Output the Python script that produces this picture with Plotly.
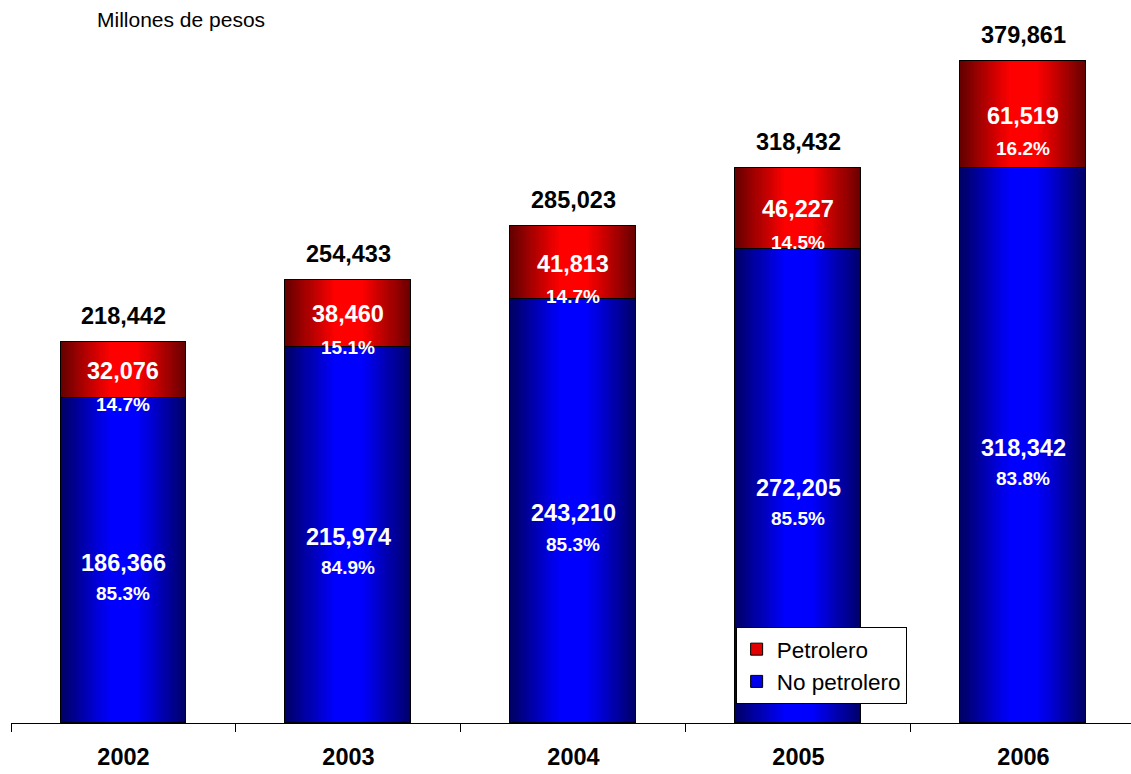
import plotly.graph_objects as go

# Ingresos por año, millones de pesos
years = ["2002", "2003", "2004", "2005", "2006"]
no_petrolero = [186366, 215974, 243210, 272205, 318342]
petrolero = [32076, 38460, 41813, 46227, 61519]
totales = [218442, 254433, 285023, 318432, 379861]
pct_no_petrolero = [85.3, 84.9, 85.3, 85.5, 83.8]
pct_petrolero = [14.7, 15.1, 14.7, 14.5, 16.2]

FONT = "Liberation Sans, Arial, sans-serif"
BAR_WIDTH = 0.56
N_LAYERS = 30  # concentric bar layers that build the horizontal shading


def ramp_color(t, channel):
    """Dark at the bar edge (t=0), full saturation toward the centre."""
    v = int(round(105 + 150 * min(1.0, t / 0.8)))
    return f"rgb({v},0,0)" if channel == "r" else f"rgb(0,0,{v})"


fig = go.Figure()

for k in range(N_LAYERS):
    t = k / (N_LAYERS - 1)
    w = BAR_WIDTH * (1 - k / N_LAYERS)
    line = dict(color="black", width=1) if k == 0 else dict(width=0)
    fig.add_trace(go.Bar(
        x=years, y=no_petrolero, width=w,
        marker=dict(color=ramp_color(t, "b"), line=line),
        showlegend=False, hoverinfo="skip",
    ))
    fig.add_trace(go.Bar(
        x=years, y=petrolero, base=no_petrolero, width=w,
        marker=dict(color=ramp_color(t, "r"), line=line),
        showlegend=False, hoverinfo="skip",
    ))

# outlines on top of the shading
for vals, base in ((no_petrolero, None), (petrolero, no_petrolero)):
    fig.add_trace(go.Bar(
        x=years, y=vals, base=base, width=BAR_WIDTH,
        marker=dict(color="rgba(0,0,0,0)", line=dict(color="black", width=1)),
        showlegend=False, hoverinfo="skip",
    ))

# legend entries
fig.add_trace(go.Bar(
    x=[None], y=[None], name="Petrolero", legendgroup="p", legendrank=1,
    marker=dict(color="rgb(225,0,0)", line=dict(color="black", width=1)),
))
fig.add_trace(go.Bar(
    x=[None], y=[None], name="No petrolero", legendgroup="np", legendrank=2,
    marker=dict(color="rgb(0,0,235)", line=dict(color="black", width=1)),
))

BIG = 23.5
annotations = []
for i, (np_v, p_v, tot, pn, pp) in enumerate(zip(no_petrolero, petrolero, totales,
                                                 pct_no_petrolero, pct_petrolero)):
    mid_np = np_v / 2
    mid_p = np_v + p_v / 2
    white_big = dict(size=BIG, family=FONT, color="white", weight="bold")
    white_small = dict(size=19, family=FONT, color="white", weight="bold")
    annotations += [
        dict(x=i, y=mid_np, text=f"{np_v:,}", showarrow=False, yshift=-2,
             font=white_big, yanchor="middle"),
        dict(x=i, y=mid_np, text=f"{pn:.1f}%", showarrow=False, yshift=-33,
             font=white_small, yanchor="middle"),
        dict(x=i, y=mid_p, text=f"{p_v:,}", showarrow=False, yshift=-1,
             font=white_big, yanchor="middle"),
        dict(x=i, y=mid_p, text=f"{pp:.1f}%", showarrow=False, yshift=-34,
             font=white_small, yanchor="middle"),
        dict(x=i, y=tot, text=f"{tot:,}", showarrow=False, yshift=26,
             font=dict(size=BIG, family=FONT, color="black", weight="bold"),
             yanchor="middle"),
    ]

annotations.append(dict(
    xref="paper", yref="paper", x=0.0749, y=1.01, xanchor="left",
    yanchor="middle", text="Millones de pesos", showarrow=False,
    font=dict(size=21, family=FONT, color="black"),
))

fig.update_layout(
    width=1131, height=774,
    margin=dict(l=11, r=0, t=26, b=51),
    paper_bgcolor="white", plot_bgcolor="white",
    barmode="overlay", bargap=0,
    font=dict(family=FONT, color="black"),
    annotations=annotations,
    xaxis=dict(
        type="category", range=[-0.5, 4.478], tickson="boundaries",
        ticks="outside", ticklen=8, tickcolor="black", tickwidth=1,
        showline=True, linecolor="black", linewidth=1, showgrid=False,
        tickfont=dict(size=BIG, family=FONT, color="black", weight="bold"),
        ticklabelstandoff=13,
    ),
    yaxis=dict(visible=False, range=[0, 400000]),
    legend=dict(
        x=0.647, y=0.1377, xanchor="left", yanchor="top",
        bgcolor="white", bordercolor="black", borderwidth=1,
        font=dict(size=22.5, family=FONT, color="black"),
        tracegroupgap=5, traceorder="normal",
    ),
)

fig.write_html("out.html")
